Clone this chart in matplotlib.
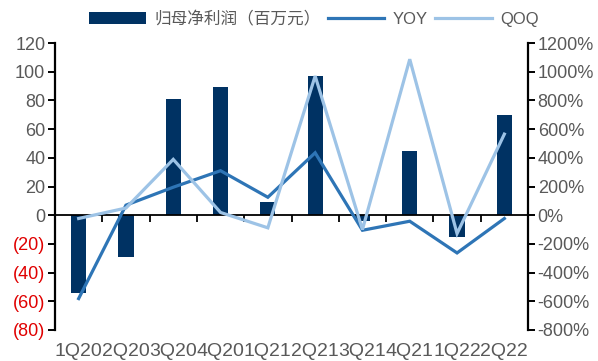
import matplotlib
matplotlib.use("Agg")
import matplotlib.pyplot as plt

# Quarterly data
quarters = ["1Q20", "2Q20", "3Q20", "4Q20", "1Q21", "2Q21", "3Q21", "4Q21", "1Q22", "2Q22"]
net_profit = [-54, -29, 81, 89, 9, 97, -4, 45, -15, 70]          # 百万元
yoy_pct = [-581, 70, 195, 310, 125, 435, -105, -42, -263, -23]   # %
qoq_pct = [-23, 50, 389, 19, -88, 970, -100, 1087, -128, 565]    # %

left_ticks = [120, 100, 80, 60, 40, 20, 0, -20, -40, -60, -80]
right_ticks = [1200, 1000, 800, 600, 400, 200, 0, -200, -400, -600, -800]

BAR_C = "#003263"
YOY_C = "#2E75B6"
QOQ_C = "#9DC3E6"
TXT_C = "#595959"
NEG_C = "#E00000"

plt.rcParams["font.family"] = ["Liberation Sans", "Noto Sans CJK SC"]

fig = plt.figure(figsize=(5.98, 3.61), dpi=100)
ax = fig.add_axes([55 / 598, 1 - 330 / 361, (528 - 55) / 598, (330 - 43) / 361])
ax2 = ax.twinx()

x = list(range(len(quarters)))
bars = ax.bar(x, net_profit, width=0.32, color=BAR_C, zorder=2)
l1, = ax2.plot(x, yoy_pct, color=YOY_C, lw=2.3, solid_joinstyle="miter")
l2, = ax2.plot(x, qoq_pct, color=QOQ_C, lw=2.3, solid_joinstyle="miter")

ax.set_xlim(-0.5, len(quarters) - 0.5)
ax.set_ylim(-80, 120)
ax2.set_ylim(-800, 1200)

# spines
for a in (ax, ax2):
    a.spines["top"].set_visible(False)
    a.spines["bottom"].set_visible(False)
ax.spines["right"].set_visible(False)
ax2.spines["left"].set_visible(False)
ax.spines["left"].set_linewidth(1.6)
ax2.spines["right"].set_linewidth(1.6)

# zero line with category boundary ticks
ax.axhline(0, color="black", lw=1.3, zorder=3)
for b in range(1, len(quarters)):
    ax.plot([b - 0.5, b - 0.5], [0, -4.8], color="black", lw=1.3, zorder=3,
            solid_capstyle="butt")
ax.set_xticks([])

# left axis
ax.set_yticks(left_ticks)
ax.set_yticklabels([f"({abs(v)})" if v < 0 else f"{v}" for v in left_ticks])
ax.tick_params(axis="y", direction="out", length=5, width=1.4, labelsize=13, pad=2)
for lab, v in zip(ax.get_yticklabels(), left_ticks):
    lab.set_color(NEG_C if v < 0 else TXT_C)

# right axis
ax2.set_yticks(right_ticks)
ax2.set_yticklabels([f"{v}%" for v in right_ticks])
ax2.tick_params(axis="y", direction="out", length=5, width=1.4, labelsize=13,
                labelcolor=TXT_C, pad=2)

# category labels along the bottom
for i, q in enumerate(quarters):
    ax.annotate(q, xy=(i, 0), xycoords=("data", "axes fraction"),
                xytext=(0, -18.5), textcoords="offset points",
                ha="center", va="baseline", fontsize=14, color=TXT_C)

# legend
leg = fig.legend([bars, l1, l2], ["归母净利润（百万元）", "YOY", "QOQ"],
                 loc="center", bbox_to_anchor=(314 / 598, 1 - 19 / 361),
                 ncol=3, frameon=False, fontsize=12, handlelength=3.4,
                 handletextpad=0.5, columnspacing=0.45, borderaxespad=0)
for t in leg.get_texts():
    t.set_color(TXT_C)

fig.savefig("out.png", dpi=100)
